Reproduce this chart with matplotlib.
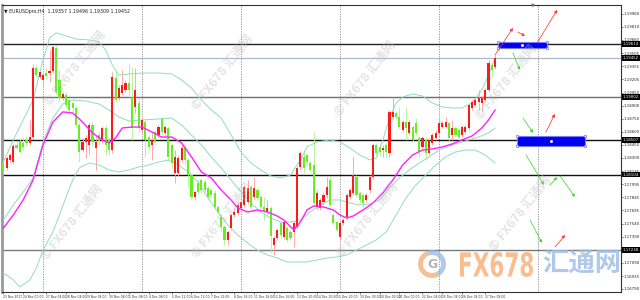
import matplotlib
matplotlib.use('Agg')
import matplotlib.pyplot as plt
from matplotlib.patches import Rectangle, Wedge, PathPatch
from matplotlib.transforms import IdentityTransform, Affine2D, blended_transform_factory
from matplotlib.textpath import TextPath
from matplotlib.font_manager import FontProperties

# EURUSD H4 candles (prices)
opens = [
    1.18241, 1.18184, 1.18276, 1.18253, 1.18449, 1.18495, 1.18472, 1.18507, 1.18472, 1.18541,
    1.19337, 1.19233, 1.19199, 1.19279, 1.19279, 1.19302, 1.19567, 1.19199, 1.18991, 1.19025,
    1.18968, 1.18933, 1.18876, 1.18679, 1.18391, 1.18484, 1.18449, 1.18679, 1.18414, 1.18564,
    1.18495, 1.18645, 1.18507, 1.18391, 1.19222, 1.18991, 1.19049, 1.19083, 1.19164, 1.19002,
    1.18887, 1.18933, 1.18622, 1.18714, 1.18541, 1.18449, 1.18599, 1.18564, 1.18749, 1.18588,
    1.18645, 1.18449, 1.18126, 1.18126, 1.18276, 1.18426, 1.18276, 1.18103, 1.17849, 1.18011,
    1.18046, 1.18022, 1.17953, 1.17930, 1.17896, 1.17734, 1.17619, 1.17503, 1.17354, 1.17492,
    1.17642, 1.17665, 1.17723, 1.17757, 1.17792, 1.17965, 1.17849, 1.17930, 1.17849, 1.17734,
    1.17677, 1.17723, 1.17296, 1.17377, 1.17550, 1.17388, 1.17492, 1.17446, 1.17446, 1.17503,
    1.18195, 1.18311, 1.18334, 1.18241, 1.18218, 1.17734, 1.17723, 1.17792, 1.17872, 1.18046,
    1.17642, 1.17561, 1.17388, 1.17550, 1.17619, 1.17849, 1.17896, 1.18080, 1.17896, 1.17872,
    1.17815, 1.17930, 1.18080, 1.18449, 1.18426, 1.18391, 1.18449, 1.18357, 1.18772, 1.18818,
    1.18772, 1.18622, 1.18714, 1.18588, 1.18656, 1.18703, 1.18530, 1.18426, 1.18507, 1.18357,
    1.18472, 1.18530, 1.18588, 1.18656, 1.18656, 1.18703, 1.18564, 1.18645, 1.18622, 1.18564,
    1.18599, 1.18645, 1.18876, 1.18910, 1.18945, 1.18933, 1.18968, 1.19083, 1.19371, 1.19348,
]
highs = [
    1.18276, 1.18322, 1.18357, 1.18472, 1.18484, 1.18518, 1.18541, 1.18553, 1.18737, 1.19383,
    1.19371, 1.19314, 1.19279, 1.19337, 1.19544, 1.19602, 1.19602, 1.19314, 1.19060, 1.19060,
    1.18991, 1.18968, 1.18910, 1.18714, 1.18530, 1.18564, 1.18714, 1.18714, 1.18564, 1.18599,
    1.18668, 1.18679, 1.18541, 1.19291, 1.19314, 1.19141, 1.19314, 1.19199, 1.19394, 1.19348,
    1.19337, 1.18991, 1.18760, 1.18737, 1.18564, 1.18588, 1.18622, 1.18679, 1.18772, 1.18679,
    1.18668, 1.18472, 1.18391, 1.18334, 1.18449, 1.18449, 1.18299, 1.18126, 1.17930, 1.18046,
    1.18069, 1.18046, 1.17976, 1.17953, 1.17930, 1.17757, 1.17653, 1.17526, 1.17469, 1.17665,
    1.17734, 1.17792, 1.17815, 1.17988, 1.18046, 1.17988, 1.18080, 1.17953, 1.17872, 1.17849,
    1.17815, 1.17746, 1.17400, 1.17492, 1.17573, 1.17584, 1.17515, 1.17469, 1.17573, 1.18207,
    1.18380, 1.18391, 1.18357, 1.18276, 1.18599, 1.17930, 1.17838, 1.17907, 1.18080, 1.18080,
    1.17665, 1.17584, 1.17573, 1.17607, 1.17896, 1.17953, 1.18311, 1.18103, 1.17919, 1.17896,
    1.17896, 1.18103, 1.18472, 1.18472, 1.18461, 1.18449, 1.18472, 1.18853, 1.19002, 1.18841,
    1.18887, 1.18737, 1.18887, 1.18737, 1.18679, 1.18760, 1.18564, 1.18553, 1.18541, 1.18530,
    1.18588, 1.18622, 1.18760, 1.18726, 1.18772, 1.18726, 1.18737, 1.18668, 1.18645, 1.18679,
    1.18679, 1.18933, 1.18968, 1.18991, 1.19083, 1.19014, 1.19106, 1.19429, 1.19394, 1.19487,
]
lows = [
    1.18115, 1.18161, 1.18241, 1.18230, 1.18391, 1.18357, 1.18391, 1.18438, 1.18449, 1.18518,
    1.19233, 1.19210, 1.19141, 1.19210, 1.19175, 1.19279, 1.19037, 1.18956, 1.18968, 1.18876,
    1.18830, 1.18818, 1.18656, 1.18253, 1.18368, 1.18299, 1.18334, 1.18449, 1.18161, 1.18449,
    1.18472, 1.18334, 1.18334, 1.18357, 1.18945, 1.18968, 1.19025, 1.19060, 1.19002, 1.18507,
    1.18818, 1.18599, 1.18588, 1.18311, 1.18391, 1.18276, 1.18449, 1.18541, 1.18564, 1.18564,
    1.18276, 1.18184, 1.18011, 1.18092, 1.18253, 1.18218, 1.17965, 1.17826, 1.17815, 1.17884,
    1.17896, 1.17907, 1.17826, 1.17849, 1.17711, 1.17653, 1.17446, 1.17296, 1.17296, 1.17469,
    1.17619, 1.17642, 1.17700, 1.17734, 1.17769, 1.17711, 1.17826, 1.17815, 1.17711, 1.17584,
    1.17653, 1.17204, 1.17181, 1.17354, 1.17388, 1.17365, 1.17331, 1.17354, 1.17273, 1.17480,
    1.18161, 1.18126, 1.18218, 1.18138, 1.17734, 1.17700, 1.17700, 1.17757, 1.17838, 1.17734,
    1.17526, 1.17446, 1.17354, 1.17526, 1.17584, 1.17826, 1.17872, 1.17849, 1.17780, 1.17734,
    1.17792, 1.17896, 1.18057, 1.18334, 1.18322, 1.18311, 1.18311, 1.18311, 1.18749, 1.18749,
    1.18633, 1.18599, 1.18507, 1.18564, 1.18484, 1.18564, 1.18311, 1.18391, 1.18276, 1.18334,
    1.18449, 1.18507, 1.18564, 1.18645, 1.18645, 1.18495, 1.18507, 1.18541, 1.18518, 1.18541,
    1.18576, 1.18622, 1.18853, 1.18887, 1.18853, 1.18830, 1.18945, 1.19060, 1.19233, 1.19325,
]
closes = [
    1.18138, 1.18299, 1.18334, 1.18438, 1.18414, 1.18368, 1.18426, 1.18472, 1.18541, 1.19337,
    1.19256, 1.19291, 1.19256, 1.19245, 1.19302, 1.19579, 1.19060, 1.18991, 1.19037, 1.18910,
    1.18853, 1.18876, 1.18679, 1.18368, 1.18484, 1.18530, 1.18679, 1.18484, 1.18484, 1.18495,
    1.18645, 1.18449, 1.18391, 1.19233, 1.18968, 1.19106, 1.19141, 1.19164, 1.19083, 1.18645,
    1.19083, 1.18645, 1.18737, 1.18507, 1.18426, 1.18507, 1.18484, 1.18656, 1.18599, 1.18656,
    1.18311, 1.18241, 1.18311, 1.18299, 1.18414, 1.18276, 1.18103, 1.17849, 1.17907, 1.17907,
    1.17930, 1.17930, 1.17849, 1.17872, 1.17734, 1.17677, 1.17503, 1.17354, 1.17446, 1.17642,
    1.17677, 1.17757, 1.17792, 1.17965, 1.17953, 1.17734, 1.17953, 1.17838, 1.17734, 1.17677,
    1.17723, 1.17400, 1.17377, 1.17469, 1.17411, 1.17561, 1.17354, 1.17377, 1.17550, 1.18184,
    1.18357, 1.18184, 1.18253, 1.18161, 1.17780, 1.17896, 1.17815, 1.17872, 1.17965, 1.17757,
    1.17550, 1.17469, 1.17550, 1.17584, 1.17872, 1.17930, 1.18103, 1.17872, 1.17815, 1.17780,
    1.17872, 1.18080, 1.18449, 1.18357, 1.18368, 1.18414, 1.18368, 1.18830, 1.18830, 1.18772,
    1.18656, 1.18714, 1.18645, 1.18714, 1.18507, 1.18588, 1.18368, 1.18530, 1.18357, 1.18507,
    1.18564, 1.18588, 1.18703, 1.18703, 1.18714, 1.18530, 1.18645, 1.18564, 1.18541, 1.18656,
    1.18656, 1.18910, 1.18945, 1.18968, 1.18991, 1.18991, 1.19083, 1.19394, 1.19314, 1.19452,
]

# indicator lines, sampled at bar positions
upper_bar = [0, 3, 6, 9, 12, 14, 16, 19, 22, 26, 29, 31, 33, 35, 38, 42, 47, 51, 54, 57, 60,
             63, 66, 69, 72, 75, 78, 81, 84, 87, 90, 92, 95, 99, 102, 105, 108, 111, 113, 115,
             117, 119, 121, 124, 127, 130, 133, 136, 139, 142, 145, 147, 149]
upper_band = [1.18253, 1.18507, 1.18737, 1.18968, 1.19429, 1.19683, 1.19741, 1.19706, 1.19671,
              1.19660, 1.19637, 1.19544, 1.19371, 1.19256, 1.19268, 1.19279, 1.19279, 1.19268,
              1.19199, 1.19106, 1.18968, 1.18853, 1.18760, 1.18564, 1.18368, 1.18241, 1.18161,
              1.18092, 1.18069, 1.18103, 1.18276, 1.18426, 1.18484, 1.18507, 1.18484, 1.18414,
              1.18334, 1.18276, 1.18299, 1.18507, 1.18760, 1.18933, 1.19002, 1.19037, 1.19014,
              1.18933, 1.18887, 1.18876, 1.18876, 1.18933, 1.19083, 1.19256, 1.19452]
mid_bar = [0, 3, 6, 9, 12, 15, 18, 21, 25, 29, 32, 35, 38, 42, 47, 51, 54, 57, 60, 63, 66, 69,
           72, 75, 78, 81, 84, 87, 90, 93, 96, 99, 102, 105, 108, 111, 114, 117, 120, 123, 126,
           129, 132, 135, 138, 141, 144, 147, 149]
mid_band = [1.17584, 1.17757, 1.17907, 1.18069, 1.18484, 1.18760, 1.18922, 1.18968, 1.18956,
            1.18922, 1.18853, 1.18772, 1.18726, 1.18737, 1.18749, 1.18760, 1.18679, 1.18564,
            1.18449, 1.18311, 1.18184, 1.18046, 1.17907, 1.17780, 1.17677, 1.17607, 1.17561,
            1.17561, 1.17584, 1.17677, 1.17757, 1.17815, 1.17815, 1.17780, 1.17757, 1.17769,
            1.17815, 1.17953, 1.18069, 1.18161, 1.18241, 1.18311, 1.18391, 1.18438, 1.18472,
            1.18507, 1.18541, 1.18588, 1.18645]
lower_bar = [0, 3, 5, 8, 10, 12, 15, 17, 19, 21, 23, 26, 29, 32, 35, 38, 41, 44, 47, 50, 53,
             56, 59, 62, 65, 68, 71, 74, 77, 80, 83, 86, 89, 92, 95, 98, 101, 104, 107, 110,
             113, 116, 119, 122, 125, 128, 131, 134, 137, 140, 143, 146, 149]
lower_band = [1.16973, 1.16893, 1.16812, 1.16893, 1.17031, 1.17238, 1.17446, 1.17642, 1.17849,
              1.18046, 1.18184, 1.18241, 1.18218, 1.18161, 1.18138, 1.18161, 1.18195, 1.18218,
              1.18253, 1.18276, 1.18218, 1.18138, 1.18022, 1.17838, 1.17677, 1.17526, 1.17411,
              1.17319, 1.17238, 1.17181, 1.17146, 1.17100, 1.17100, 1.17100, 1.17123, 1.17146,
              1.17158, 1.17181, 1.17238, 1.17296, 1.17354, 1.17446, 1.17642, 1.17838, 1.17988,
              1.18103, 1.18218, 1.18311, 1.18368, 1.18391, 1.18391, 1.18334, 1.18241]
ma_bar = [0, 3, 6, 9, 12, 15, 18, 21, 24, 27, 30, 32, 34, 36, 39, 42, 45, 48, 51, 54, 57, 60,
          63, 66, 69, 71, 74, 77, 80, 83, 85, 88, 90, 92, 94, 97, 100, 102, 104, 106, 109, 112,
          115, 118, 121, 124, 127, 130, 133, 136, 139, 142, 145, 147, 149]
ma_line = [1.17492, 1.17642, 1.17815, 1.18046, 1.18449, 1.18714, 1.18830, 1.18818, 1.18714,
           1.18588, 1.18507, 1.18472, 1.18530, 1.18645, 1.18656, 1.18656, 1.18599, 1.18541,
           1.18541, 1.18472, 1.18311, 1.18138, 1.18069, 1.17930, 1.17815, 1.17723, 1.17677,
           1.17700, 1.17677, 1.17630, 1.17584, 1.17469, 1.17561, 1.17700, 1.17746, 1.17734,
           1.17700, 1.17642, 1.17607, 1.17630, 1.17700, 1.17780, 1.17896, 1.18046, 1.18218,
           1.18334, 1.18391, 1.18403, 1.18426, 1.18461, 1.18507, 1.18553, 1.18645, 1.18737,
           1.18853]

# horizontal levels drawn on the chart
levels = [1.19614, 1.19452, 1.19002, 1.18507, 1.18104, 1.17238]
level_colours = ['#222222', '#aab4cc', '#6e6e6e', '#111111', '#111111', '#7a7a7a']

# blue zones (bar from, bar to, price low, price high)
zone_bars = [(149.9, 164.7), (155.6, 176.2)]
zone_prices = [(1.19567, 1.19637), (1.18438, 1.18553)]

# projection arrows: start (bar, price) -> end (bar, price)
arrow_start = [(149.0, 1.19487), (155.9, 1.19752), (161.7, 1.19625), (154.4, 1.19510),
               (157.5, 1.18760), (164.4, 1.18599), (158.4, 1.18334), (165.6, 1.17988),
               (168.7, 1.18092), (159.6, 1.17584), (167.2, 1.17273)]
arrow_end = [(154.4, 1.19798), (158.1, 1.19706), (167.8, 1.20006), (156.5, 1.19314),
             (160.5, 1.18588), (167.1, 1.18806), (163.8, 1.17988), (167.8, 1.18080),
             (173.2, 1.17849), (163.2, 1.17319), (170.2, 1.17411)]
arrow_kind = ['up', 'up', 'up', 'down', 'down', 'up', 'down', 'down', 'down', 'down', 'up']

price_ticks = [1.19960, 1.19810, 1.19660, 1.19505, 1.19355, 1.19205, 1.19050, 1.18900,
               1.18750, 1.18600, 1.18450, 1.18300, 1.18145, 1.17995, 1.17845, 1.17695,
               1.17540, 1.17390, 1.17240, 1.17090, 1.16935, 1.16790]

week_bars = [12, 42, 72, 102, 132, 162]
time_bars = [0, 6, 13, 19, 25, 32, 38, 44, 51, 57, 63, 70, 76, 82, 89, 95, 101, 108, 114,
             120, 127, 133, 139, 146]
time_labels = ['23 Nov 2017', '24 Nov 00:00', '27 Nov 04:00', '28 Nov 04:00', '29 Nov 04:00',
               '30 Nov 08:00', '1 Dec 08:00', '4 Dec 08:00', '5 Dec 12:00', '6 Dec 12:00',
               '7 Dec 12:00', '8 Dec 16:00', '11 Dec 16:00', '12 Dec 16:00', '13 Dec 20:00',
               '14 Dec 20:00', '15 Dec 20:00', '19 Dec 00:00', '20 Dec 00:00', '21 Dec 00:00',
               '22 Dec 04:00', '25 Dec 04:00', '26 Dec 04:00', '27 Dec 08:00']

header = 'EURUSDpro,H4  1.19357 1.19496 1.19309 1.19452'

BULL, BEAR = '#ff1a1a', '#66ee22'
BULL_WICK, BEAR_WICK = '#ff9a9a', '#aef28a'
BAND = '#93dcbb'

fig = plt.figure(figsize=(6.4, 3.0), dpi=100, facecolor='white')
ax = fig.add_axes([2 / 640, 8 / 300, 619 / 640, 287 / 300])
ax.set_facecolor('white')
ax.set_xlim(-0.42, 187.15)
ax.set_ylim(1.16754, 1.20063)

for wb in week_bars:
    ax.axvline(wb, color='#8a8a8a', lw=0.6, ls=(0, (1.5, 1.5)), zorder=1)

for lv, col in zip(levels, level_colours):
    ax.axhline(lv, color=col, lw=1.0 if col != '#aab4cc' else 0.8, zorder=2)

# candles
for i, (o, h, l, c) in enumerate(zip(opens, highs, lows, closes)):
    up = c >= o
    ax.vlines(i, l, h, color=BULL_WICK if up else BEAR_WICK, lw=0.6, zorder=3)
    bottom = min(o, c)
    height = max(abs(c - o), 0.00003)
    ax.add_patch(Rectangle((i - 0.33, bottom), 0.66, height, facecolor=BULL if up else BEAR,
                           edgecolor='none', zorder=4))

ax.plot(upper_bar, upper_band, color=BAND, lw=0.7, zorder=3)
ax.plot(mid_bar, mid_band, color=BAND, lw=0.7, zorder=3)
ax.plot(lower_bar, lower_band, color=BAND, lw=0.7, zorder=3)
ax.plot(ma_bar, ma_line, color='#ff22ff', lw=1.0, zorder=5)

for (b0, b1), (p0, p1) in zip(zone_bars, zone_prices):
    ax.add_patch(Rectangle((b0, p0), b1 - b0, p1 - p0, facecolor='#0000f0',
                           edgecolor='#7a7aff', lw=0.8, zorder=6))
    for cx in (b0, b1):
        for cy in (p0, p1):
            ax.plot(cx, cy, marker='s', ms=1.6, mfc='white', mec='#6a6aff', mew=0.5, zorder=7)
    ax.plot((b0 + b1) / 2, (p0 + p1) / 2, marker='s', ms=1.0, color='white', zorder=7)

for s, e, k in zip(arrow_start, arrow_end, arrow_kind):
    col = '#ff3030' if k == 'up' else '#33dd22'
    ax.annotate('', xy=e, xytext=s,
                arrowprops=dict(arrowstyle='-|>', color=col, lw=0.6, ls=(0, (2, 1)),
                                mutation_scale=4, shrinkA=0, shrinkB=0), zorder=8)

# axes frame and ticks
for side in ['top', 'right', 'bottom']:
    ax.spines[side].set_color('#333333')
    ax.spines[side].set_linewidth(0.8)
ax.spines['left'].set_color('#9a9a9a')
ax.spines['left'].set_linewidth(2.0)

ax.yaxis.tick_right()
ax.set_yticks(price_ticks)
ax.set_yticklabels([f'{p:.5f}' for p in price_ticks])
ax.tick_params(axis='y', labelsize=2.8, length=1.2, width=0.4, pad=0.6, colors='#222222')
ax.set_xticks(time_bars)
ax.set_xticklabels(time_labels)
ax.tick_params(axis='x', labelsize=2.2, length=1.2, width=0.4, pad=0.6, colors='#333333')
for lab in ax.get_xticklabels():
    lab.set_horizontalalignment('left')

# price boxes for the levels on the right scale
trans = blended_transform_factory(ax.transAxes, ax.transData)
for lv in levels:
    ax.text(1.003, lv, f'{lv:.5f}', transform=trans, fontsize=2.8, color='white',
            va='center', ha='left', zorder=9, clip_on=False,
            bbox=dict(boxstyle='square,pad=0.15', facecolor='black', edgecolor='none'))

ax.text(0.004, 0.985, '\u25bc ' + header, transform=ax.transAxes, fontsize=3.4,
        va='top', ha='left', color='#222222')
ax.text(160.5, 1.20063, '\u25bc', fontsize=3.5, color='#777777', ha='center', va='center')

# diagonal watermarks
tiles = [(75, 68), (222, 72), (365, 78), (506, 82), (72, 222), (222, 220), (367, 220), (520, 213)]
for tx, ty in tiles:
    fig.text(tx / 640, 1 - ty / 300, '\u00a9 FX678 汇通网', rotation=52, ha='center', va='center',
             fontsize=9, color='#bdbdbd', alpha=0.4, fontweight='bold',
             family=['Noto Sans CJK SC', 'DejaVu Sans'])

# big logo at the bottom right
fig.add_artist(Wedge((432, 300 - 264), 14, 110, 300, width=5, transform=IdentityTransform(),
                     facecolor='#f5a46a', alpha=0.7, edgecolor='none'))
fig.add_artist(Wedge((432, 300 - 264), 14, 300, 470, width=5, transform=IdentityTransform(),
                     facecolor='#8fb3e0', alpha=0.7, edgecolor='none'))
fig.text(432 / 640, 1 - 264 / 300, 'G', ha='center', va='center', fontsize=9,
         color='#a0a0a0', fontweight='bold', alpha=0.8)

# condensed "FX678" drawn as a scaled text path
fx_path = TextPath((0, 0), 'FX678', size=1, prop=FontProperties(family='DejaVu Sans', weight='bold'))
ext = fx_path.get_extents()
fx_path = Affine2D().translate(-ext.x0, -ext.y0).scale(73 / ext.width, 25 / ext.height) \
    .translate(460, 300 - 277).transform_path(fx_path)
fig.add_artist(PathPatch(fx_path, transform=IdentityTransform(), facecolor='#f6a86c',
                         edgecolor='none', alpha=0.75))
fig.text(542 / 640, 1 - 264 / 300, '汇通网', ha='left', va='center', fontsize=19,
         color='#9dbbe4', alpha=0.8, fontweight='bold', family=['Noto Sans CJK SC'])

fig.savefig('out.png', dpi=100, facecolor='white')
